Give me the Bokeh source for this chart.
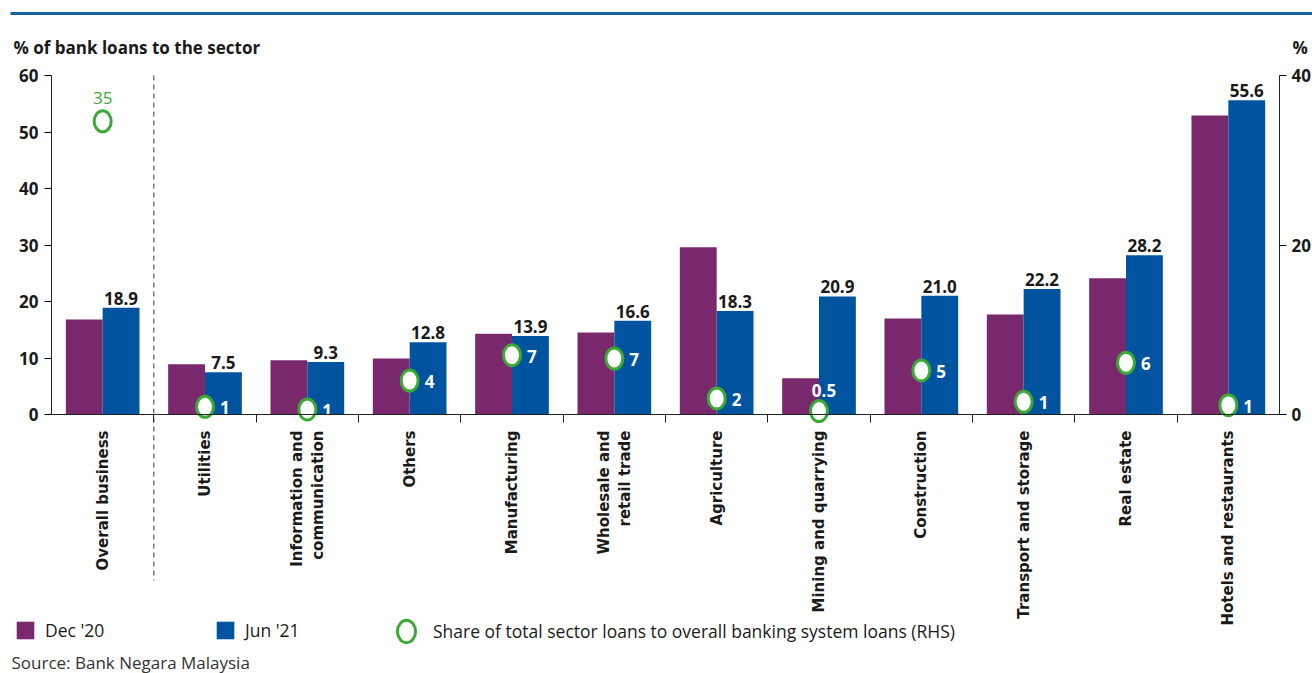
from bokeh.plotting import figure
from bokeh.models import (Range1d, LinearAxis, FixedTicker, Label, Arrow,
                          Legend, LegendItem, ColumnDataSource)
from bokeh.core.properties import value
from bokeh.embed import file_html
from bokeh.resources import INLINE

# ---------------- data ----------------
categories = ["Overall business", "Utilities", "Information and\ncommunication",
              "Others", "Manufacturing", "Wholesale and\nretail trade",
              "Agriculture", "Mining and quarrying", "Construction",
              "Transport and storage", "Real estate", "Hotels and restaurants"]
dec_20 = [16.8, 8.9, 9.6, 9.9, 14.3, 14.5, 29.6, 6.4, 17.0, 17.7, 24.1, 52.9]
jun_21 = [18.9, 7.5, 9.3, 12.8, 13.9, 16.6, 18.3, 20.9, 21.0, 22.2, 28.2, 55.6]
jun_21_labels = ["18.9", "7.5", "9.3", "12.8", "13.9", "16.6", "18.3", "20.9",
                 "21.0", "22.2", "28.2", "55.6"]
share = [34.6, 0.9, 0.6, 4.0, 7.0, 6.6, 1.9, 0.4, 5.2, 1.5, 6.1, 1.1]
share_labels = ["35", "1", "1", "4", "7", "7", "2", "0.5", "5", "1", "6", "1"]
left_ticks = [0, 10, 20, 30, 40, 50, 60]
right_ticks = [0, 20, 40]
LEFT_MAX, RIGHT_MAX = 60, 40

PURPLE = "#7a286e"
BLUE = "#00549f"
GREEN = "#3aaa35"
TXT = "#1a1a1a"
FONT = "Open Sans"

W, H = 1312, 673
FL, FR, FT, FB = 51, 1279, 75, 414  # plotting-area edges in px
N = len(categories)
SX = N / (FR - FL)          # data units per px (x)
SY = LEFT_MAX / (FB - FT)   # data units per px (y, left scale)


def dx(px):
    return -0.5 + (px - FL) * SX


def dy(py):
    return (FB - py) * SY


idx = list(range(N))
src = ColumnDataSource(dict(
    x=idx,
    xd=[i - 0.18 for i in idx],
    xj=[i + 0.18 for i in idx],
    dec=dec_20, jun=jun_21, jl=jun_21_labels,
    share=share, sl=share_labels,
))

# frame covers the whole canvas; axes are pinned with fixed_location
p = figure(width=W, height=H,
           x_range=Range1d(dx(0), dx(W)), y_range=Range1d(dy(H), dy(0)),
           output_backend="svg", toolbar_location=None,
           min_border_left=0, min_border_right=0, min_border_top=0,
           min_border_bottom=0, background_fill_color="white",
           border_fill_color="white", outline_line_color=None)
p.xgrid.visible = False
p.ygrid.visible = False
k = RIGHT_MAX / LEFT_MAX
p.extra_y_ranges = {"rhs": Range1d(dy(H) * k, dy(0) * k)}

# bars
r_dec = p.vbar(x="xd", top="dec", width=0.36, source=src, fill_color=PURPLE,
               line_color=None)
r_jun = p.vbar(x="xj", top="jun", width=0.36, source=src, fill_color=BLUE,
               line_color=None)

# value labels above Jun bars
p.text(x="xj", y="jun", text="jl", source=src, text_align="center",
       text_baseline="bottom", y_offset=-3, text_font=value(FONT),
       text_font_size="17px", text_font_style="bold", text_color=TXT)

# axes
xa = p.xaxis[0]
xa.fixed_location = 0
xa.bounds = (-0.5, N - 0.5)
xa.ticker = FixedTicker(ticks=idx, minor_ticks=[i + 0.5 for i in idx[:-1]])
xa.major_label_overrides = {i: c for i, c in enumerate(categories)}
xa.major_label_orientation = 1.5707963267948966
xa.major_tick_out = 0
xa.major_tick_in = 0
xa.minor_tick_out = 8
xa.minor_tick_in = 0
xa.major_label_standoff = 8
xa.major_label_text_font = "DejaVu Sans"
xa.major_label_text_font_style = "bold"
xa.major_label_text_font_size = "15px"
xa.major_label_text_color = TXT
xa.axis_line_color = "#222222"
xa.minor_tick_line_color = "#222222"

ya = p.yaxis[0]
ya.fixed_location = -0.5
ya.bounds = (0, LEFT_MAX)
ya.ticker = FixedTicker(ticks=left_ticks)
ya.major_tick_out = 7
ya.major_tick_in = 0
ya.minor_tick_line_color = None
ya.major_label_standoff = 6
ya.major_label_text_font = FONT
ya.major_label_text_font_style = "bold"
ya.major_label_text_font_size = "17px"
ya.major_label_text_color = TXT
ya.axis_line_color = "#222222"

ra = LinearAxis(y_range_name="rhs", ticker=FixedTicker(ticks=right_ticks))
ra.fixed_location = N - 0.5
ra.bounds = (0, RIGHT_MAX)
ra.major_tick_out = 7
ra.major_tick_in = 0
ra.minor_tick_line_color = None
ra.major_label_standoff = 5
ra.major_label_text_font = FONT
ra.major_label_text_font_style = "bold"
ra.major_label_text_font_size = "17px"
ra.major_label_text_color = TXT
ra.axis_line_color = "#222222"
p.add_layout(ra, "right")

# share markers (RHS)
r_sh = p.ellipse(x="x", y="share", width=17, height=21, width_units="screen",
                 height_units="screen", source=src, fill_color="white",
                 line_color=GREEN, line_width=3, y_range_name="rhs")

inside = [i for i in idx if i not in (0, 7)]
src_in = ColumnDataSource(dict(x=[idx[i] for i in inside],
                               y=[share[i] for i in inside],
                               t=[share_labels[i] for i in inside]))
p.text(x="x", y="y", text="t", source=src_in, x_offset=15, y_offset=1,
       text_align="left", text_baseline="middle", text_font=value(FONT),
       text_font_size="17px", text_font_style="bold", text_color="white",
       y_range_name="rhs")
p.text(x=[idx[0]], y=[share[0]], text=[share_labels[0]], y_offset=-23,
       text_align="center", text_baseline="middle", text_font=value(FONT),
       text_font_size="17px", text_font_style="normal", text_color=GREEN,
       y_range_name="rhs")
p.text(x=[idx[7]], y=[share[7]], text=[share_labels[7]], x_offset=5, y_offset=-21,
       text_align="center", text_baseline="middle", text_font=value(FONT),
       text_font_size="17px", text_font_style="bold", text_color="white",
       y_range_name="rhs")

# dashed divider and top rule
p.add_layout(Arrow(end=None, x_start=0.5, y_start=LEFT_MAX, x_end=0.5, y_end=dy(580),
                   line_dash="5 4", line_width=1, line_color="#333333"))
p.add_layout(Arrow(end=None, x_start=dx(10), y_start=dy(13), x_end=dx(W),
                   y_end=dy(13), line_width=3, line_color="#1a5ea8"))

# titles and source
p.add_layout(Label(x=dx(13), y=dy(35), text="% of bank loans to the sector",
                   text_baseline="top", text_font=FONT, text_font_style="bold",
                   text_font_size="17px", text_color=TXT))
p.add_layout(Label(x=dx(1292), y=dy(35), text="%", text_baseline="top",
                   text_font=FONT, text_font_style="bold",
                   text_font_size="17px", text_color=TXT))
p.add_layout(Label(x=dx(11), y=dy(650), text="Source: Bank Negara Malaysia",
                   text_baseline="top", text_font=FONT,
                   text_font_size="17px", text_color="#333333"))


# legends
def make_legend(label, renderer, x_px, bottom_px, gw, gh, standoff):
    leg = Legend(items=[LegendItem(label=label, renderers=[renderer])],
                 location=(x_px, H - bottom_px), orientation="horizontal",
                 border_line_color=None, background_fill_alpha=0,
                 padding=0, margin=0, spacing=0, glyph_width=gw, glyph_height=gh,
                 label_standoff=standoff, label_height=22,
                 label_text_font=FONT, label_text_font_size="17.5px",
                 label_text_color=TXT)
    p.add_layout(leg)


make_legend("Dec '20", r_dec, 14, 642, 22, 22, 9)
make_legend("Jun '21", r_jun, 214, 642, 22, 22, 9)
make_legend("Share of total sector loans to overall banking system loans (RHS)",
            r_sh, 392, 645, 28, 28, 13)

open("out.html", "w").write(file_html(p, INLINE))
